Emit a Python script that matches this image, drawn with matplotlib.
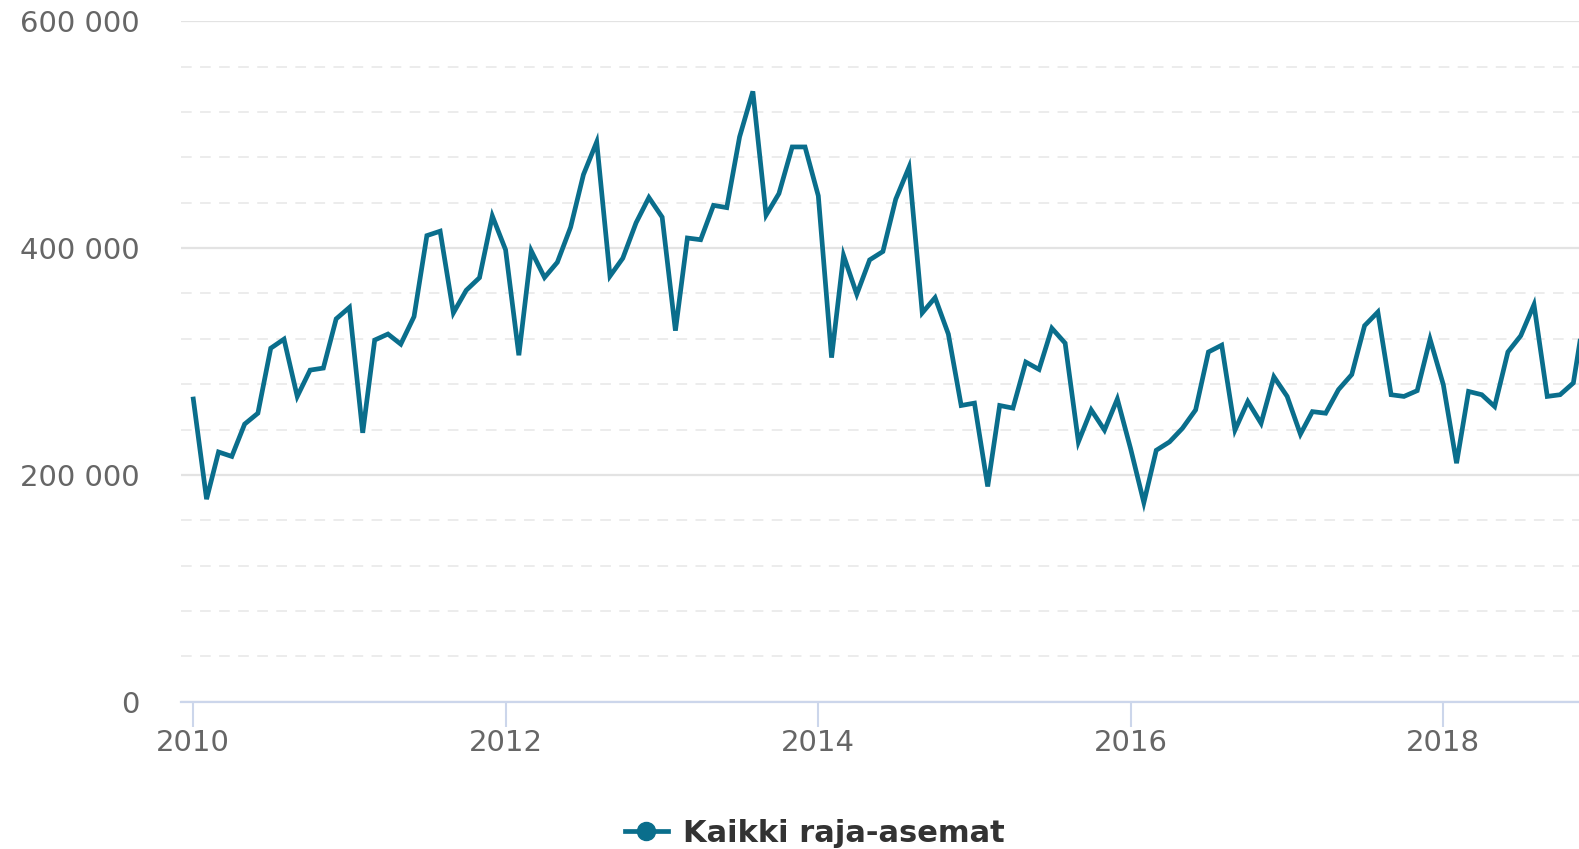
#importing the packages
import pandas as pd
import matplotlib.pyplot as plt
import matplotlib.dates as mdates
from matplotlib.ticker import MultipleLocator, FuncFormatter

# monthly crossings, Jan 2010 - Dec 2018
values = [
    266900, 178600, 220200, 216300, 244800, 254400, 311700, 319700, 269200, 292400, 294200, 337600,
    347700, 237100, 318900, 324200, 315300, 339600, 411000, 414900, 342900, 362800, 373900, 428300,
    398500, 305500, 397600, 374100, 387500, 418400, 464800, 493600, 375300, 391100, 422300, 444600,
    427300, 327200, 408900, 407400, 437700, 435700, 498100, 538200, 429100, 448100, 489200, 489200,
    446100, 303400, 393500, 359300, 389600, 397000, 443100, 471300, 342900, 356300, 324200, 261200,
    263300, 189800, 261200, 258900, 299500, 293000, 329300, 316200, 229100, 257300, 239500, 266900,
    223200, 175600, 221700, 229100, 241000, 257300, 308400, 314400, 239500, 264700, 245500, 286500,
    269200, 235900, 255800, 254400, 275200, 288500, 331600, 343600, 270700, 269200, 274300, 319700,
    279600, 210300, 273600, 270700, 260300, 308400, 322700, 350100, 269200, 270700, 281100, 352000,
]
series_name = "Kaikki raja-asemat"
year_ticks = [2010, 2012, 2014, 2016, 2018]

dates = pd.date_range("2010-01-01", periods=len(values), freq="MS")

fig = plt.figure(figsize=(15.79, 8.49), dpi=100)
ax = fig.add_axes([181 / 1579, 147.3 / 849, 1 - 181 / 1579, 680.4 / 849])

line_color = "#0a6e8c"
ax.plot(dates, values, color=line_color, lw=3.4, solid_joinstyle="miter", label=series_name, zorder=3)

# axes limits
start = mdates.date2num(pd.Timestamp("2010-01-01"))
ax.set_xlim(start - 28.75, start + 3239.2)
ax.set_ylim(0, 600000)

# grid
ax.yaxis.set_major_locator(MultipleLocator(200000))
ax.yaxis.set_minor_locator(MultipleLocator(40000))
ax.grid(axis="y", which="major", color="#e3e3e3", lw=1.6)
ax.grid(axis="y", which="minor", color="#ececec", lw=1.4, linestyle=(0, (5.5, 4.3)))
ax.set_axisbelow(True)

ax.yaxis.set_major_formatter(FuncFormatter(lambda v, p: f"{int(v):,}".replace(",", " ")))
ax.tick_params(axis="y", which="both", length=0, pad=30, labelsize=21, labelcolor="#666666")

ax.set_xticks([pd.Timestamp(f"{y}-01-01") for y in year_ticks])
ax.set_xticklabels([str(y) for y in year_ticks])
ax.tick_params(axis="x", length=18, width=1.5, color="#ccd6eb", pad=2, labelsize=21, labelcolor="#666666")

for s in ["top", "right", "left"]:
    ax.spines[s].set_visible(False)
ax.spines["bottom"].set_color("#ccd6eb")
ax.spines["bottom"].set_linewidth(1.6)

# legend at the bottom
leg = fig.legend(
    handles=[plt.Line2D([], [], color=line_color, lw=3.4, marker="o", markersize=13)],
    labels=[series_name], loc="center", bbox_to_anchor=(815 / 1579, 1 - 833 / 849),
    frameon=False, handlelength=1.4, handletextpad=0.5,
    prop={"size": 22, "weight": "bold"},
)
for t in leg.get_texts():
    t.set_color("#333333")

plt.savefig("out.png", dpi=100)
